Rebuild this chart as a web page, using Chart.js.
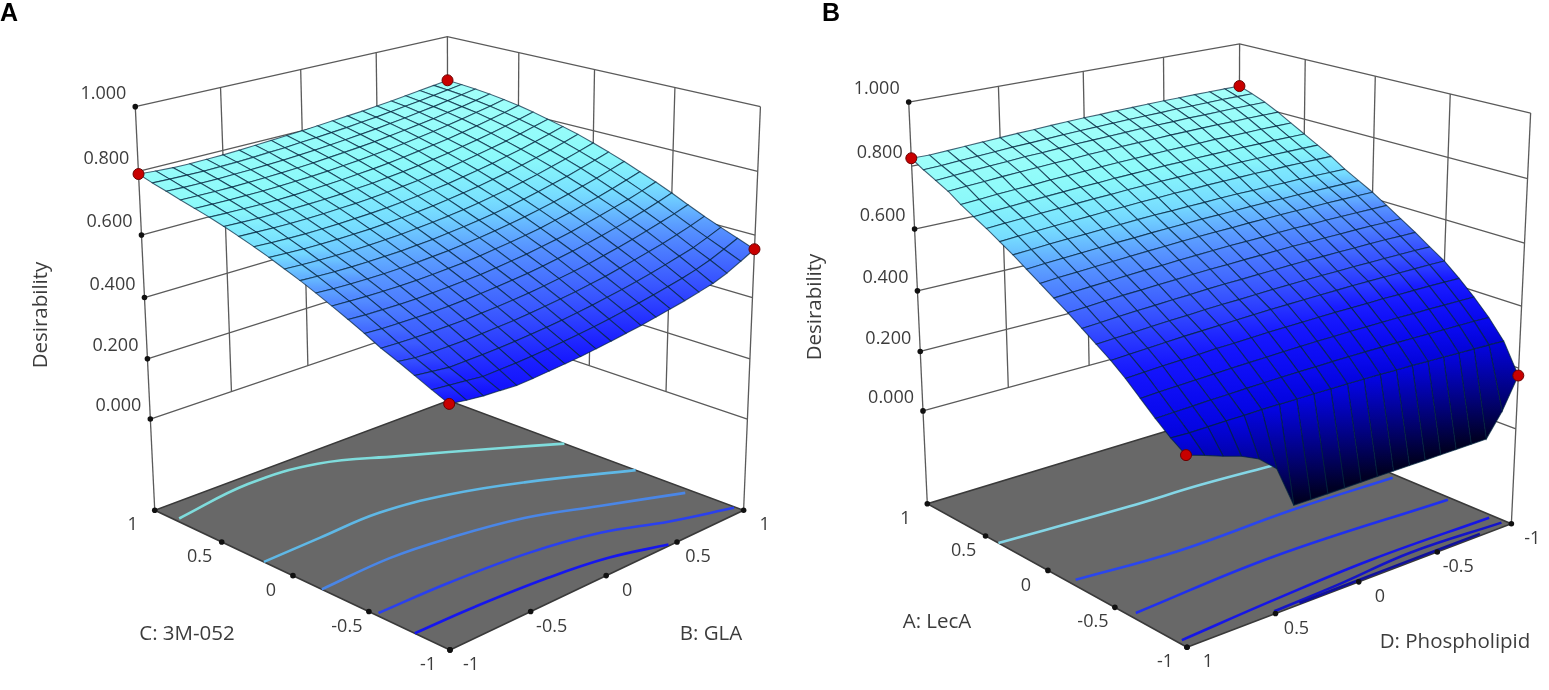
<!DOCTYPE html>
<html>
<head>
<meta charset="utf-8">
<title>Desirability surfaces</title>
<script src="https://cdn.jsdelivr.net/npm/chart.js@4/dist/chart.umd.min.js"></script>
<style>
  html, body { margin: 0; padding: 0; background: #fff; }
  canvas { position: absolute; top: 0; filter: blur(0.35px); }
  #chart-a { left: 0; }
  #chart-b { left: 775px; }
</style>
</head>
<body>
<canvas id="chart-a" width="775" height="690"></canvas>
<canvas id="chart-b" width="774" height="690"></canvas>
<script>
// Coded factor levels of the surface grid
const gridLevels = [-1,-0.9,-0.8,-0.7,-0.6,-0.5,-0.4,-0.3,-0.2,-0.1,0,0.1,0.2,0.3,0.4,0.5,0.6,0.7,0.8,0.9,1];
const zTicks = [0, 0.2, 0.4, 0.6, 0.8, 1];
const zTickLabels = ['0.000', '0.200', '0.400', '0.600', '0.800', '1.000'];
const factorTicks = [-1, -0.5, 0, 0.5, 1];
const factorTickLabels = ['-1', '-0.5', '0', '0.5', '1'];

// Panel A: desirability, rows C: 3M-052 -1..1, columns B: GLA -1..1
const desirabilityA = [
  [.424,.416,.410,.407,.404,.406,.410,.414,.418,.424,.430,.437,.444,.453,.462,.471,.482,.493,.510,.532,.555],
  [.446,.441,.436,.430,.432,.434,.437,.441,.446,.451,.457,.464,.472,.480,.489,.499,.509,.521,.536,.555,.575],
  [.469,.463,.457,.458,.459,.461,.464,.468,.472,.477,.483,.490,.498,.506,.515,.525,.536,.548,.560,.577,.595],
  [.492,.485,.484,.484,.485,.487,.490,.493,.498,.503,.509,.515,.523,.531,.541,.551,.562,.573,.586,.600,.616],
  [.513,.511,.510,.510,.511,.512,.515,.518,.522,.527,.533,.540,.547,.555,.565,.575,.586,.598,.611,.624,.639],
  [.539,.536,.535,.535,.535,.536,.539,.542,.546,.551,.556,.563,.571,.579,.588,.598,.609,.621,.634,.648,.663],
  [.563,.560,.559,.558,.558,.560,.562,.565,.568,.573,.579,.585,.593,.601,.610,.621,.632,.644,.656,.670,.685],
  [.586,.584,.582,.581,.581,.582,.584,.587,.590,.595,.601,.607,.614,.622,.632,.642,.653,.664,.677,.691,.705],
  [.608,.605,.603,.602,.602,.603,.605,.608,.611,.616,.621,.628,.635,.643,.652,.662,.673,.685,.697,.711,.725],
  [.629,.626,.624,.623,.623,.624,.625,.628,.631,.636,.641,.647,.654,.662,.671,.681,.692,.703,.716,.729,.743],
  [.648,.645,.643,.642,.642,.643,.645,.647,.651,.655,.660,.666,.673,.681,.689,.699,.709,.721,.733,.746,.760],
  [.667,.664,.662,.661,.661,.662,.663,.666,.669,.673,.678,.684,.691,.698,.707,.716,.726,.737,.749,.762,.776],
  [.684,.681,.679,.678,.678,.679,.681,.683,.686,.690,.695,.701,.707,.715,.723,.732,.742,.752,.764,.776,.789],
  [.700,.698,.696,.695,.695,.696,.698,.700,.703,.707,.712,.717,.723,.730,.738,.747,.756,.766,.777,.789,.801],
  [.715,.713,.711,.711,.711,.712,.713,.715,.719,.722,.727,.732,.738,.745,.752,.761,.770,.779,.790,.801,.813],
  [.729,.727,.726,.725,.725,.726,.728,.730,.733,.737,.741,.746,.752,.759,.766,.773,.782,.791,.801,.811,.823],
  [.741,.740,.739,.739,.739,.740,.742,.744,.747,.751,.755,.760,.765,.771,.778,.785,.793,.802,.811,.820,.831],
  [.753,.752,.751,.751,.752,.753,.755,.757,.760,.764,.768,.772,.777,.783,.789,.796,.803,.811,.819,.828,.838],
  [.766,.764,.763,.763,.764,.765,.767,.769,.772,.775,.779,.783,.788,.793,.799,.805,.812,.819,.827,.835,.843],
  [.778,.776,.775,.774,.775,.776,.778,.781,.783,.787,.790,.794,.798,.803,.808,.814,.820,.826,.833,.840,.847],
  [.792,.788,.785,.784,.785,.786,.788,.791,.794,.797,.800,.804,.808,.812,.816,.821,.826,.832,.838,.844,.850]
];

// Panel B: desirability, rows A: LecA -1..1, columns D: Phospholipid -1..1
const desirabilityB = [
  [.176,.075,0,0,0,0,0,0,0,0,0,0,0,0,0,.130,.177,.203,.220,.240,.258],
  [.270,.273,.275,.277,.279,.281,.283,.284,.286,.287,.288,.288,.289,.289,.289,.289,.288,.288,.287,.286,.288],
  [.330,.332,.333,.334,.335,.336,.337,.337,.338,.338,.338,.337,.337,.336,.335,.334,.332,.331,.329,.327,.325],
  [.380,.381,.382,.383,.383,.384,.384,.384,.384,.383,.383,.382,.381,.379,.378,.376,.374,.372,.370,.368,.365],
  [.425,.426,.427,.427,.427,.428,.427,.427,.427,.426,.425,.424,.423,.421,.419,.418,.415,.413,.411,.408,.405],
  [.466,.467,.467,.467,.467,.467,.467,.466,.465,.464,.463,.462,.460,.458,.456,.454,.452,.449,.446,.443,.440],
  [.497,.498,.498,.498,.498,.498,.497,.497,.496,.495,.494,.492,.490,.489,.487,.484,.482,.479,.476,.473,.470],
  [.530,.530,.531,.531,.530,.530,.529,.529,.528,.526,.525,.523,.522,.520,.517,.515,.512,.510,.507,.503,.500],
  [.560,.560,.561,.561,.560,.560,.559,.559,.558,.556,.555,.553,.552,.550,.547,.545,.542,.540,.537,.533,.530],
  [.590,.590,.590,.590,.590,.589,.589,.588,.586,.585,.584,.582,.580,.578,.575,.573,.570,.567,.564,.561,.557],
  [.620,.620,.620,.620,.619,.619,.618,.617,.616,.614,.613,.611,.609,.606,.604,.601,.598,.595,.592,.589,.585],
  [.645,.645,.645,.645,.645,.644,.644,.643,.641,.640,.639,.637,.635,.633,.630,.628,.625,.622,.619,.616,.612],
  [.670,.670,.671,.671,.670,.670,.669,.669,.668,.666,.665,.663,.662,.660,.657,.655,.652,.650,.647,.643,.640],
  [.700,.700,.700,.700,.699,.699,.698,.697,.696,.694,.693,.691,.689,.686,.684,.681,.678,.675,.672,.669,.665],
  [.725,.725,.725,.725,.724,.724,.723,.722,.721,.719,.718,.716,.714,.711,.709,.706,.703,.700,.697,.694,.690],
  [.750,.750,.750,.749,.749,.748,.747,.746,.744,.743,.741,.739,.737,.734,.732,.729,.726,.723,.719,.716,.712],
  [.775,.775,.775,.774,.773,.773,.771,.770,.769,.767,.765,.763,.761,.758,.755,.753,.749,.746,.743,.739,.735],
  [.800,.800,.800,.799,.799,.798,.797,.796,.794,.793,.791,.789,.787,.784,.782,.779,.776,.773,.769,.766,.762],
  [.822,.822,.822,.821,.820,.820,.818,.817,.816,.814,.812,.810,.808,.805,.802,.800,.796,.793,.790,.786,.782],
  [.840,.840,.840,.839,.838,.838,.836,.835,.834,.832,.830,.828,.826,.823,.820,.818,.814,.811,.808,.804,.802],
  [.855,.855,.855,.855,.854,.854,.853,.852,.851,.849,.848,.846,.844,.841,.839,.836,.833,.830,.827,.824,.825]
];

// Contour traces on the floor as [first factor, second factor]
const contoursA = [
  [[-0.976,0.844],[-0.482,0.92],[-0.07,0.864],[0.284,0.646],[0.72,0.355],[1,0.16]],
  [[-1,0.2],[-0.648,0.21],[-0.258,0.217],[0.13,0.13],[0.497,-0.03],[1,-0.32]],
  [[-1,-0.194],[-0.566,-0.178],[-0.22,-0.22],[0.19,-0.316],[0.548,-0.478],[0.96,-0.672]],
  [[-0.98,-0.54],[-0.549,-0.549],[-0.074,-0.592],[0.317,-0.68],[0.65,-0.83],[0.99,-0.95]],
  [[-1,-0.787],[-0.642,-0.796],[-0.198,-0.83],[0.146,-0.886],[0.45,-0.99]]
];
const contoursB = [
  [[1,0.394],[0.268,0.338],[-0.172,0.322],[-0.63,0.278]],
  [[0.963,-0.162],[0.42,-0.218],[-0.315,-0.204],[-0.965,-0.228]],
  [[0.964,-0.603],[0.112,-0.55],[-0.977,-0.601]],
  [[0.975,-0.935],[0.415,-0.894],[-0.207,-0.865],[-0.972,-0.882]],
  [[0.49,-0.98],[0.064,-0.96],[-0.398,-0.925],[-0.974,-0.96]],
  [[0.35,-0.99],[-0.2,-0.985],[-0.8,-0.985]]
];
const contourColorsA = ['#7fdcdc', '#5fb8e6', '#4a86e6', '#2a40ee', '#1616ee'];
const contourColorsB = ['#84d6e6', '#2a46ee', '#2030ee', '#1616e6', '#1414c8', '#10109c'];

// Colour ramp of the surface
const rampStops = [0, 0.1, 0.3, 0.42, 0.5, 0.6, 0.67, 0.74, 0.86];
const rampColors = [[0,0,36],[0,0,110],[4,4,232],[22,22,255],[56,84,255],[88,150,255],[118,222,255],[140,250,250],[165,255,250]];

function zColor(z) {
  let i = 0;
  while (i < rampStops.length - 2 && z > rampStops[i + 1]) i++;
  const t = Math.min(1, Math.max(0, (z - rampStops[i]) / (rampStops[i + 1] - rampStops[i])));
  const c = rampColors[i].map((v, k) => Math.round(v + (rampColors[i + 1][k] - v) * t));
  return `rgb(${c[0]},${c[1]},${c[2]})`;
}

// Fit a 3x4 camera to the visible corners of the plot box (least squares)
function fitCamera(corners) {
  const A = [], b = [];
  corners.forEach(([u, v, z, x, y]) => {
    A.push([u, v, z, 1, 0, 0, 0, 0, -x * u, -x * v, -x * z]); b.push(x);
    A.push([0, 0, 0, 0, u, v, z, 1, -y * u, -y * v, -y * z]); b.push(y);
  });
  const n = 11;
  const M = [];
  for (let i = 0; i < n; i++) {
    M.push([]);
    for (let j = 0; j < n; j++) M[i].push(A.reduce((s, r) => s + r[i] * r[j], 0));
    M[i].push(A.reduce((s, r, k) => s + r[i] * b[k], 0));
  }
  for (let c = 0; c < n; c++) {
    let p = c;
    for (let r = c + 1; r < n; r++) if (Math.abs(M[r][c]) > Math.abs(M[p][c])) p = r;
    [M[c], M[p]] = [M[p], M[c]];
    for (let r = 0; r < n; r++) {
      if (r === c) continue;
      const f = M[r][c] / M[c][c];
      for (let k = c; k <= n; k++) M[r][k] -= f * M[c][k];
    }
  }
  const s = M.map((r, i) => r[n] / r[i]);
  return (u, v, z) => {
    const w = s[8] * u + s[9] * v + s[10] * z + 1;
    return { x: (s[0] * u + s[1] * v + s[2] * z + s[3]) / w, y: (s[4] * u + s[5] * v + s[6] * z + s[7]) / w, w };
  };
}

function lineSet(points, color, width, extra) {
  return Object.assign({ data: points, showLine: true, borderColor: color, borderWidth: width, pointRadius: 0, fill: false, tension: 0, clip: false }, extra || {});
}

function crearPanel(cfg) {
  const project = fitCamera(cfg.corners);
  const canvas = document.getElementById(cfg.canvasId);
  const ctx = canvas.getContext('2d');
  const layers = [];
  const floor = cfg.floorZ;
  const wallColor = '#5a5a5a';
  const uBack = cfg.uBack, uFront = -uBack;

  // walls
  const wallLine = (a, b) => layers.push(lineSet([project(...a), project(...b)], wallColor, 1.3));
  zTicks.forEach(z => {
    layers.push(lineSet([project(uFront, 1, z), project(uBack, 1, z), project(uBack, -1, z)], wallColor, 1.3));
  });
  [-0.5, 0, 0.5].forEach(t => {
    wallLine([t, 1, 0], [t, 1, 1]);
    wallLine([uBack, t, 0], [uBack, t, 1]);
  });
  wallLine([uFront, 1, floor], [uFront, 1, 1]);
  wallLine([uBack, 1, floor], [uBack, 1, 1]);
  wallLine([uBack, -1, floor], [uBack, -1, 1]);

  // floor
  const floorPts = [[uFront,-1],[uBack,-1],[uBack,1],[uFront,1],[uFront,-1]].map(p => project(p[0], p[1], floor));
  layers.push(lineSet(floorPts, '#3a3a3a', 1.6, { fill: 'shape', backgroundColor: '#686868' }));

  // contours
  cfg.contours.forEach((c, i) => {
    layers.push(lineSet(c.map(p => project(p[0], p[1], floor)), cfg.contourColors[i], 2.6, { tension: 0.4 }));
  });

  // surface cells, far ones first
  const cells = [];
  for (let i = 0; i < gridLevels.length - 1; i++) {
    for (let j = 0; j < gridLevels.length - 1; j++) {
      const q = [[i, j], [i, j + 1], [i + 1, j + 1], [i + 1, j]].map(([r, k]) => {
        const z = cfg.z[r][k];
        return Object.assign(project(gridLevels[k], gridLevels[r], z), { z });
      });
      cells.push({ q, depth: q.reduce((s, p) => s + p.w, 0) });
    }
  }
  cells.sort((a, b) => b.depth - a.depth);
  cells.forEach(({ q }) => {
    const hi = q.reduce((m, p) => p.z > m.z ? p : m);
    const lo = q.reduce((m, p) => p.z < m.z ? p : m);
    let fillStyle = zColor(hi.z);
    if (Math.abs(hi.y - lo.y) > 1) {
      fillStyle = ctx.createLinearGradient(0, hi.y, 0, lo.y);
      fillStyle.addColorStop(0, zColor(hi.z));
      fillStyle.addColorStop(1, zColor(lo.z));
    }
    const pts = q.concat([q[0]]).map(p => ({ x: p.x, y: p.y }));
    layers.push(lineSet(pts, 'rgba(0,34,60,0.7)', 1.1, { fill: 'shape', backgroundColor: fillStyle }));
  });

  // tick dots
  const dots = [];
  zTicks.forEach(z => { if (z !== 0.8) dots.push(project(uFront, 1, z)); });
  factorTicks.forEach(t => {
    dots.push(project(uFront, t, floor));
    dots.push(project(t, -1, floor));
  });
  layers.push({ data: dots, showLine: false, pointRadius: 2.8, pointBackgroundColor: '#111', pointBorderWidth: 0, clip: false });

  // design points at the surface corners
  const last = gridLevels.length - 1;
  const reds = [[0, 0], [0, last], [last, 0], [last, last]].map(([r, k]) => project(gridLevels[k], gridLevels[r], cfg.z[r][k]));
  layers.push({ data: reds, showLine: false, pointRadius: 5.5, pointBackgroundColor: '#c80000', pointBorderColor: '#6a0000', pointBorderWidth: 1, clip: false });

  // texts
  const texts = [];
  const tickFont = '18px "Open Sans"';
  const titleFont = '20.5px "Open Sans"';
  zTicks.forEach((z, i) => {
    const p = project(uFront, 1, z);
    texts.push({ text: zTickLabels[i], x: p.x - 9, y: p.y - 13, font: tickFont, align: 'right' });
  });
  factorTicks.forEach((t, i) => {
    const l = project(uFront, t, floor);
    texts.push({ text: factorTickLabels[i], x: l.x - 22, y: l.y + 15, font: tickFont, align: 'center' });
    const r = project(t, -1, floor);
    texts.push({ text: factorTickLabels[i], x: r.x + 21, y: r.y + 15, font: tickFont, align: 'center' });
  });
  cfg.titles.forEach(t => texts.push({ text: t.text, x: t.x, y: t.y, font: titleFont, align: 'center', rotation: t.rotation }));
  texts.push({ text: cfg.letter, x: cfg.letterX, y: 14, font: 'bold 25px "Liberation Sans"', align: 'left', color: '#000' });

  const textPlugin = {
    id: 'panelTexts',
    afterDraw(chart) {
      const c = chart.ctx;
      texts.forEach(t => {
        c.save();
        c.translate(chart.scales.x.getPixelForValue(t.x), chart.scales.y.getPixelForValue(t.y));
        if (t.rotation) c.rotate(t.rotation * Math.PI / 180);
        c.font = t.font;
        c.fillStyle = t.color || '#3c3c3c';
        c.textAlign = t.align;
        c.textBaseline = 'middle';
        c.fillText(t.text, 0, 0);
        c.restore();
      });
    }
  };

  return new Chart(ctx, {
    type: 'scatter',
    data: { datasets: layers.slice().reverse() },
    options: {
      responsive: false,
      animation: false,
      devicePixelRatio: 1,
      events: [],
      layout: { padding: 0, autoPadding: false },
      plugins: { legend: { display: false }, tooltip: { enabled: false } },
      scales: {
        x: { type: 'linear', display: false, min: cfg.xMin, max: cfg.xMax },
        y: { type: 'linear', display: false, min: 0, max: 690, reverse: true }
      }
    },
    plugins: [textPlugin]
  });
}

crearPanel({
  canvasId: 'chart-a', letter: 'A', letterX: 0, xMin: 0, xMax: 775,
  z: desirabilityA, floorZ: -0.31, uBack: 1,
  contours: contoursA, contourColors: contourColorsA,
  corners: [[-1,-1,-0.31,450,651],[1,-1,-0.31,744,509],[-1,1,-0.31,155,509],[1,1,-0.31,448,402],[-1,1,1,135,107],[1,1,1,448,36],[1,-1,1,760,107]],
  titles: [
    { text: 'Desirability', x: 41, y: 315, rotation: -90 },
    { text: 'C: 3M-052', x: 187, y: 634 },
    { text: 'B: GLA', x: 711, y: 634 }
  ]
});

crearPanel({
  canvasId: 'chart-b', letter: 'B', letterX: 822, xMin: 775, xMax: 1549,
  z: desirabilityB, floorZ: -0.32, uBack: -1,
  contours: contoursB, contourColors: contourColorsB,
  corners: [[1,-1,-0.32,1187,647],[-1,-1,-0.32,1511,524],[1,1,-0.32,927,504],[-1,1,-0.32,1239,409],[1,1,1,909,102],[-1,1,1,1239,44],[-1,-1,1,1531,113]],
  titles: [
    { text: 'Desirability', x: 815, y: 307, rotation: -90 },
    { text: 'A: LecA', x: 937, y: 622 },
    { text: 'D: Phospholipid', x: 1455, y: 642 }
  ]
});
</script>
</body>
</html>
